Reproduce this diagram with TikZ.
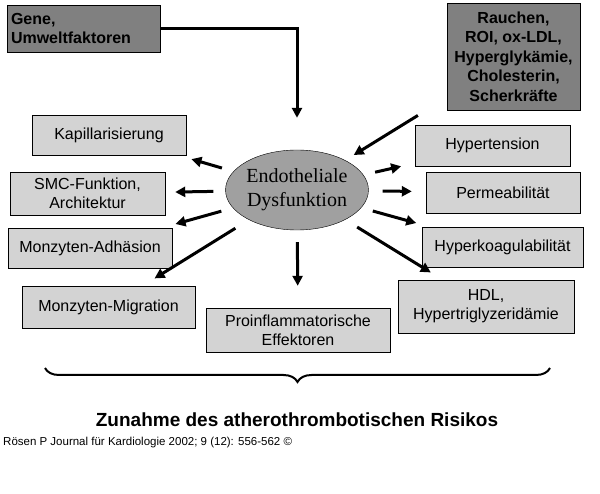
\documentclass[tikz,border=0pt]{standalone}
\usepackage{fontspec}
\setmainfont{Liberation Sans}
\newfontfamily\serifface{Liberation Serif}
\usetikzlibrary{arrows.meta,decorations.pathreplacing,shapes.geometric}
\definecolor{box-light}{RGB}{211,211,211}
\definecolor{box-dark}{RGB}{128,128,128}
\definecolor{ell-gray}{RGB}{160,160,160}
\tikzset{
  effect/.style={draw=black, fill=box-light, align=center, font=\fontsize{16}{19}\selectfont, inner sep=0pt},
  cause/.style={draw=black, fill=box-dark, font=\bfseries\fontsize{16}{19.5}\selectfont, inner sep=0pt},
  arr/.style={line width=3pt, -{Triangle[length=10pt,width=10pt]}, shorten <=12pt, shorten >=14pt}
}
\begin{document}
\begin{tikzpicture}[x=1pt,y=-1pt]
\useasboundingbox (0,0) rectangle (600,494);

\node[cause, minimum width=153pt, minimum height=47pt, align=left, text width=145pt] (gene) at (83.5,28.5) {Gene,\\Umweltfaktoren};
\node[cause, minimum width=133pt, minimum height=107pt, align=center] (rau) at (513.5,56.5) {Rauchen,\\ROI, ox-LDL,\\Hyperglykämie,\\Cholesterin,\\Scherkräfte};

\node[draw=black, fill=ell-gray, ellipse, minimum width=135pt, minimum height=80pt, align=center, inner sep=0pt, font=\serifface\fontsize{20}{24}\selectfont] (ell) at (297,190) {Endotheliale\\Dysfunktion};

% left side
\node[effect, minimum width=154pt, minimum height=40pt] (kap) at (109,135) {Kapillarisierung};
\node[effect, minimum width=155pt, minimum height=43pt] (smc) at (87.5,193.5) {SMC-Funktion,\\Architektur};
\node[effect, minimum width=164pt, minimum height=40pt] (adh) at (90,248) {Monzyten-Adhäsion};
\node[effect, minimum width=173pt, minimum height=42pt] (mig) at (108.5,307) {Monzyten-Migration};
\node[effect, minimum width=184pt, minimum height=44pt] (pro) at (298,330) {Proinflammatorische\\Effektoren};
% right side
\node[effect, minimum width=155pt, minimum height=41pt] (hyp) at (492.5,145.5) {Hypertension};
\node[effect, minimum width=154pt, minimum height=41pt] (per) at (503,192.5) {Permeabilität};
\node[effect, minimum width=161pt, minimum height=40pt] (koa) at (502.5,247) {Hyperkoagulabilität};
\node[effect, minimum width=176pt, minimum height=53pt] (hdl) at (486,306.5) {HDL,\\Hypertriglyzeridämie};

\draw[line width=3pt, -{Triangle[length=10pt,width=10pt]}, shorten >=32pt] (gene.east) -| (ell.north);
\draw[arr, shorten <=34pt, shorten >=10pt] (rau) -- (ell);

\draw[arr] (ell) -- (kap);
\draw[arr, shorten >=10pt] (ell) -- (smc);
\draw[arr] (ell) -- (adh);
\draw[arr, shorten <=16pt] (ell) -- (mig);
\draw[arr, shorten <=12pt, shorten >=22pt] (ell) -- (pro);
\draw[arr, shorten <=14pt] (ell) -- (hdl);
\draw[arr] (ell) -- (koa);
\draw[arr, shorten <=14pt, shorten >=14pt] (ell) -- (per);
\draw[arr] (ell) -- (hyp);

\draw[line width=2pt, decorate, decoration={brace, mirror, amplitude=14pt}] (45,368) -- (550,368);

\node[font=\bfseries\fontsize{19}{22}\selectfont] (risk) at (297,420) {Zunahme des atherothrombotischen Risikos};
\node[anchor=west, font=\fontsize{11.5}{13}\selectfont, inner sep=0pt] (src) at (3,443) {Rösen P Journal für Kardiologie 2002; 9 (12): 556-562 ©};
\end{tikzpicture}
\end{document}
